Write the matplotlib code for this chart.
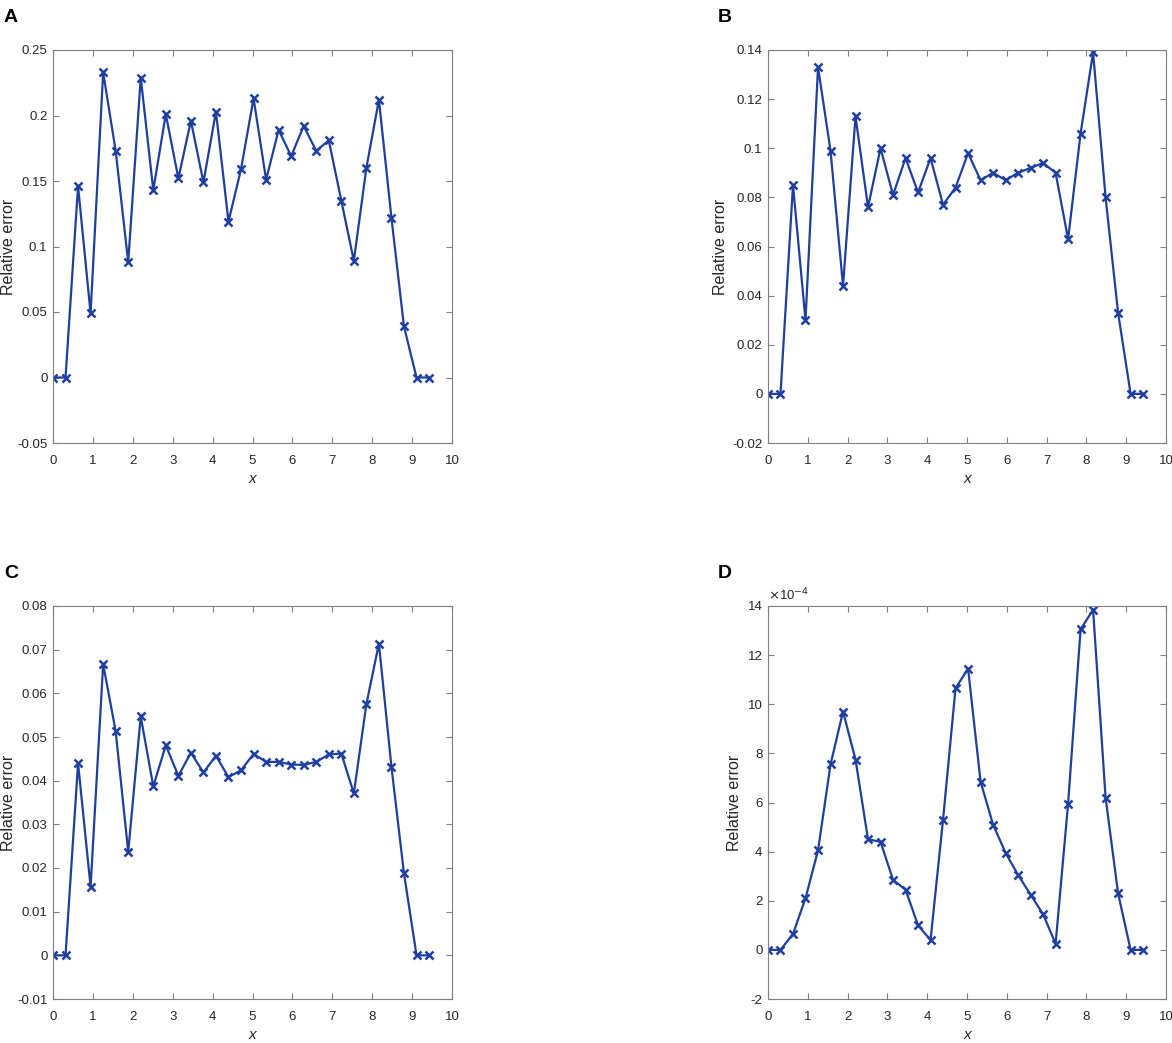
import matplotlib
matplotlib.use('Agg')
import matplotlib.pyplot as plt

plt.rcParams['font.family'] = ['Liberation Sans', 'DejaVu Sans']

# grid points (step pi/10 on [0, 3pi])
x = [0.0, 0.314, 0.628, 0.942, 1.257, 1.571, 1.885, 2.199, 2.513, 2.827,
     3.142, 3.456, 3.770, 4.084, 4.398, 4.712, 5.027, 5.341, 5.655, 5.969,
     6.283, 6.597, 6.912, 7.226, 7.540, 7.854, 8.168, 8.482, 8.796, 9.111, 9.425]

err_a = [0, 0, 0.146, 0.049, 0.233, 0.173, 0.088, 0.229, 0.143, 0.201,
         0.152, 0.196, 0.149, 0.203, 0.119, 0.159, 0.213, 0.151, 0.189, 0.169,
         0.192, 0.173, 0.181, 0.135, 0.089, 0.160, 0.212, 0.122, 0.039, 0, 0]

err_b = [0, 0, 0.085, 0.030, 0.133, 0.099, 0.044, 0.113, 0.076, 0.100,
         0.081, 0.096, 0.082, 0.096, 0.077, 0.084, 0.098, 0.087, 0.090, 0.087,
         0.090, 0.092, 0.094, 0.090, 0.063, 0.106, 0.139, 0.080, 0.033, 0, 0]

err_c = [0, 0, 0.0440, 0.0157, 0.0667, 0.0513, 0.0237, 0.0547, 0.0387, 0.0481,
         0.0411, 0.0464, 0.0419, 0.0457, 0.0408, 0.0424, 0.0461, 0.0443, 0.0443, 0.0437,
         0.0436, 0.0443, 0.0460, 0.0462, 0.0371, 0.0575, 0.0714, 0.0432, 0.0188, 0, 0]

err_d = [0, 0, 0.65e-4, 2.1e-4, 4.05e-4, 7.55e-4, 9.7e-4, 7.75e-4, 4.5e-4, 4.4e-4,
         2.85e-4, 2.45e-4, 1.0e-4, 0.4e-4, 5.3e-4, 10.65e-4, 11.45e-4, 6.85e-4, 5.1e-4, 3.95e-4,
         3.05e-4, 2.25e-4, 1.45e-4, 0.25e-4, 5.95e-4, 13.05e-4, 13.85e-4, 6.2e-4, 2.3e-4, 0, 0]

panels = ['A', 'B', 'C', 'D']
series = [err_a, err_b, err_c, err_d]
ylims = [(-0.05, 0.25), (-0.02, 0.14), (-0.01, 0.08), (-2e-4, 14e-4)]
ysteps = [0.05, 0.02, 0.01, 2e-4]
yscale = [1, 1, 1, 1e4]   # D labels shown in units of 1e-4

W, H = 1172, 1043
# axes boxes in pixels: left, top, right, bottom
boxes = [(53, 50, 452, 443), (768, 50, 1166, 443),
         (53, 606, 452, 999), (768, 606, 1166, 999)]
letter_pos = [(4, 18), (718, 18), (4, 574), (718, 574)]
ylab_x = [-0.092, -0.1, -0.092, -0.065]

line_col = '#1f3f9f'
box_col = '#7f7f7f'
txt_col = '#262626'

fig = plt.figure(figsize=(W / 100, H / 100), dpi=100)

for i in range(4):
    l, t, r, b = boxes[i]
    ax = fig.add_axes([l / W, 1 - b / H, (r - l) / W, (b - t) / H])
    ax.plot(x, series[i], color=line_col, lw=1.6, marker='x', ms=6, mew=1.8)
    ax.set_xlim(0, 10)
    ax.set_xticks(range(0, 11))
    lo, hi = ylims[i]
    ax.set_ylim(lo, hi)
    n = int(round((hi - lo) / ysteps[i]))
    yt = [lo + k * ysteps[i] for k in range(n + 1)]
    ax.set_yticks(yt)
    ax.set_yticklabels(['%g' % round(v * yscale[i], 4) for v in yt])
    ax.tick_params(direction='in', top=True, right=True, length=4, width=0.8,
                   color=box_col, labelsize=9.5, labelcolor=txt_col)
    ax.tick_params(axis='x', pad=9)
    ax.tick_params(axis='y', pad=4)
    for s in ax.spines.values():
        s.set_color(box_col)
        s.set_linewidth(0.8)
    ax.set_xlabel('x', fontstyle='italic', fontsize=11, color=txt_col, labelpad=3)
    ax.set_ylabel('Relative error', fontsize=11.5, color=txt_col)
    ax.yaxis.set_label_coords(ylab_x[i], 0.5)
    if yscale[i] != 1:
        ax.text(0.0, 1.008, r'$\times$10$^{-4}$', transform=ax.transAxes,
                ha='left', va='bottom', fontsize=9.5, color=txt_col)
    fig.text(letter_pos[i][0] / W, 1 - letter_pos[i][1] / H, panels[i],
             fontsize=14, fontweight='bold', ha='left', va='center')

fig.savefig('out.png', dpi=100)
